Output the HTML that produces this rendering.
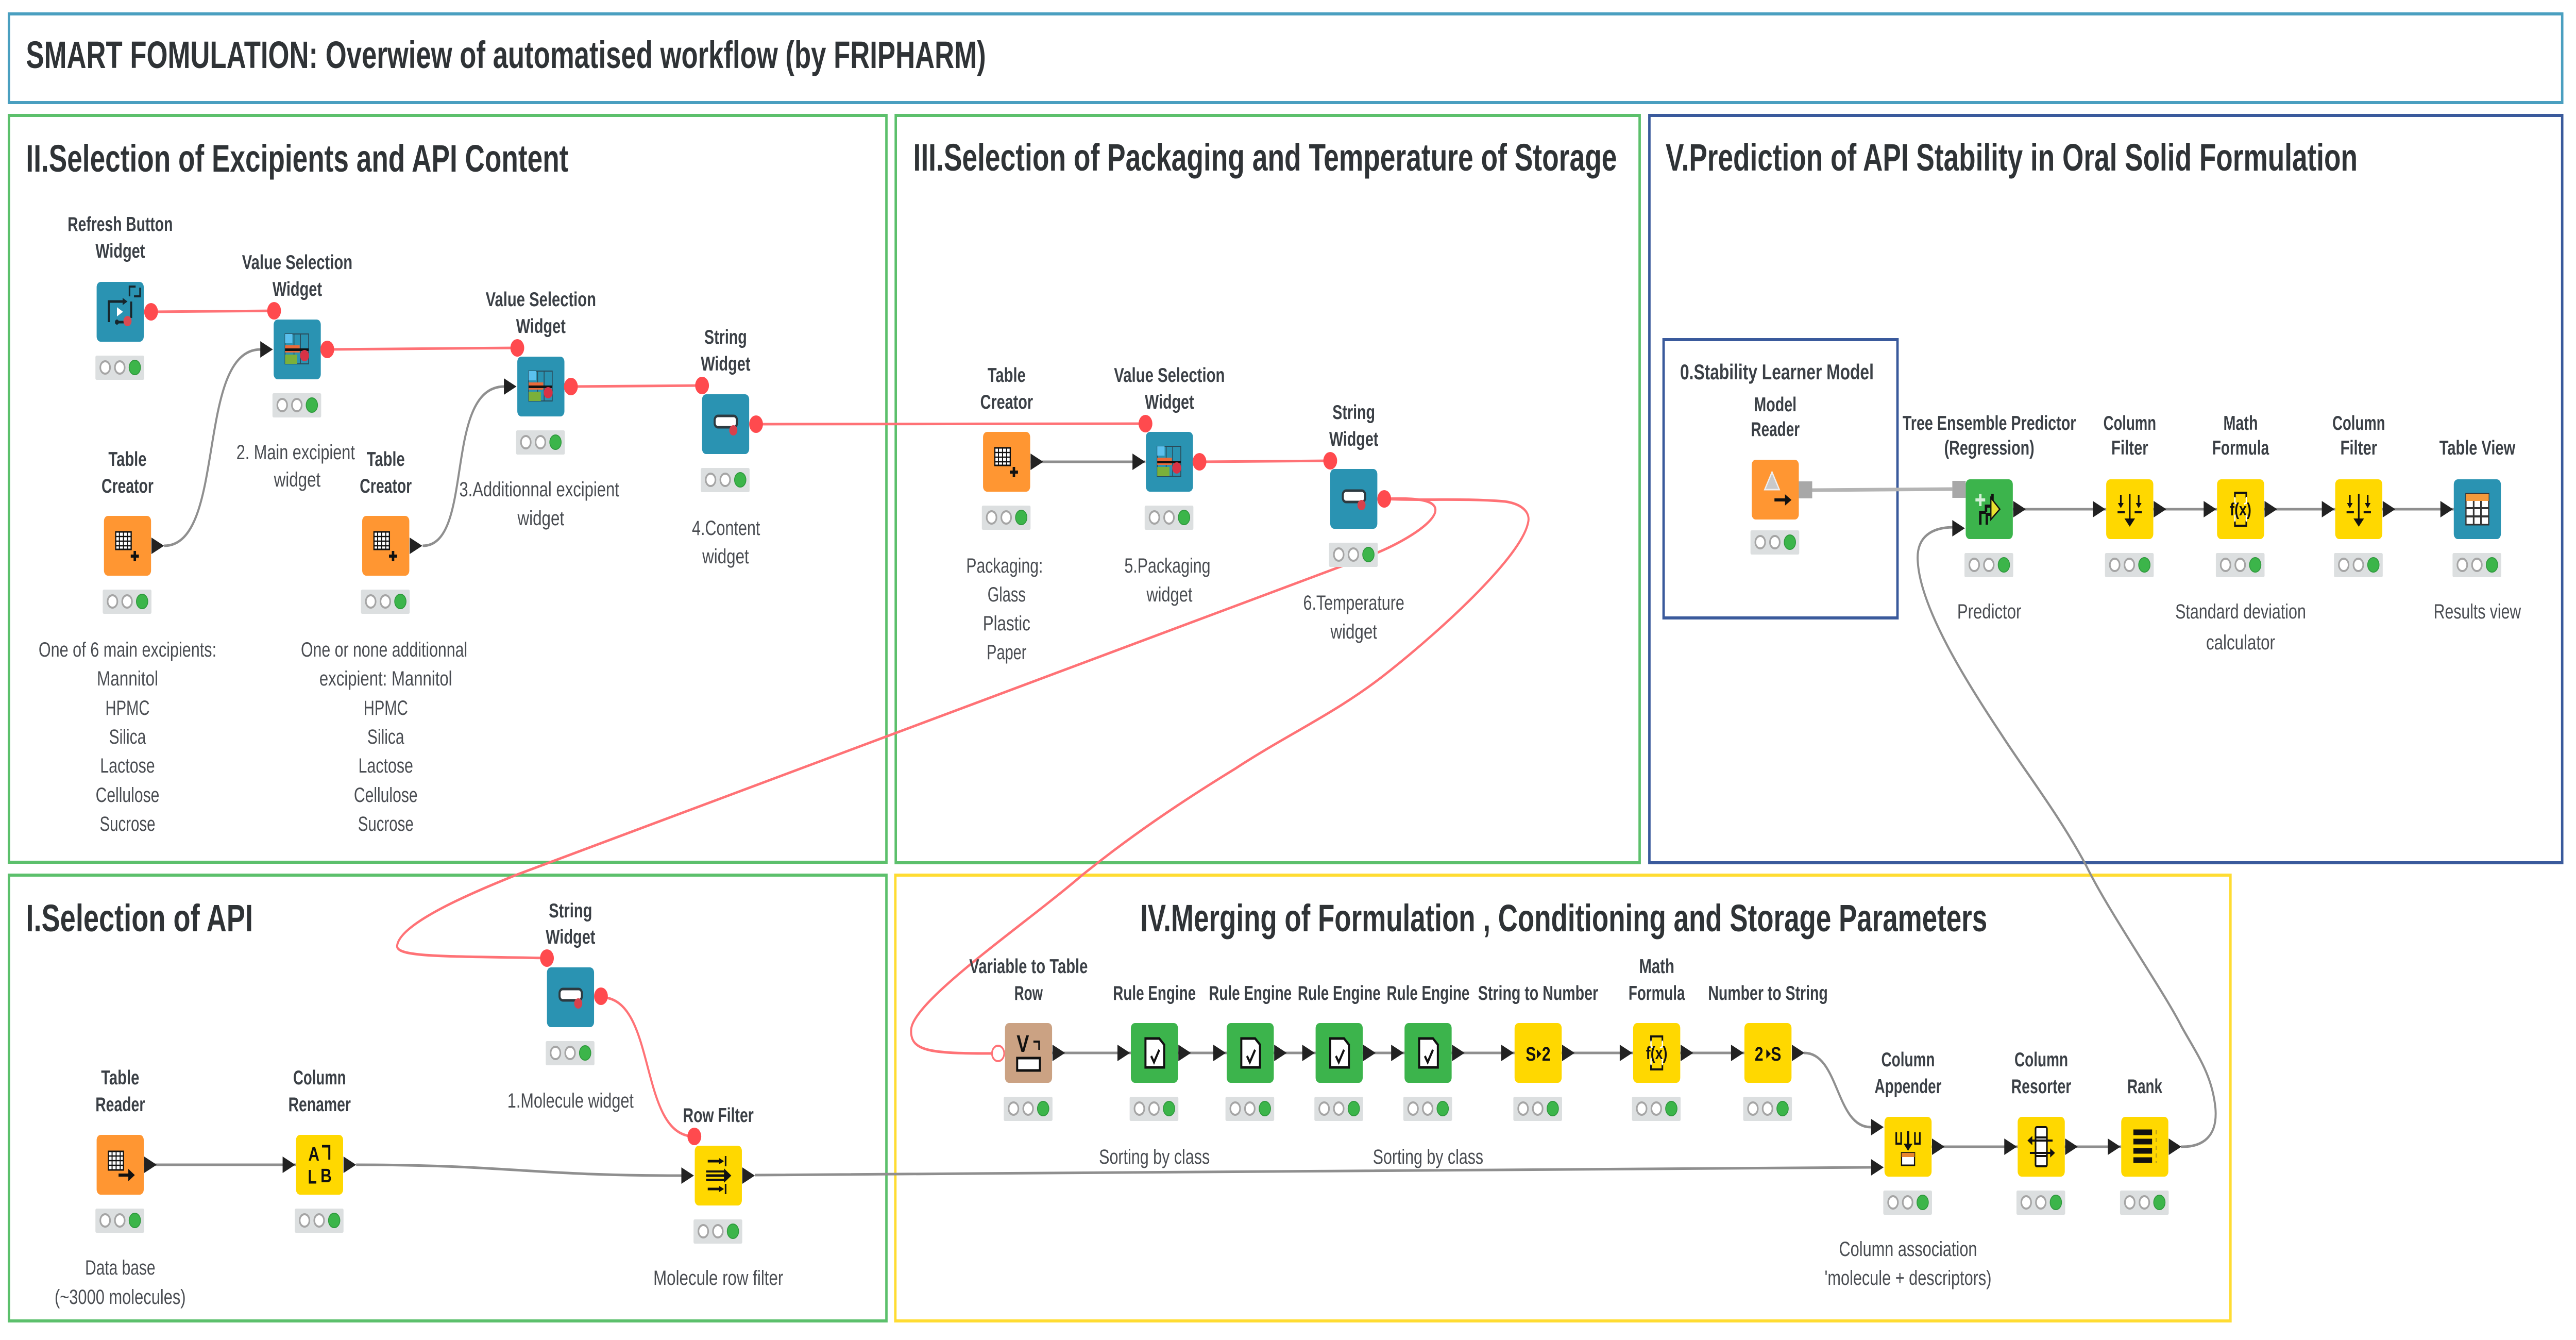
<!DOCTYPE html>
<html lang="en">
<head>
<meta charset="utf-8">
<title>SMART FOMULATION workflow</title>
<style>
html,body{margin:0;padding:0;background:#fff;width:100%;height:100%;overflow:hidden}
svg{display:block;width:100vw;height:100vh}
text{font-family:"Liberation Sans",sans-serif;text-anchor:middle}
.t{font-size:74px;font-weight:bold;fill:#2f3336;text-anchor:start}
.l{font-size:39px;font-weight:bold;fill:#3b4046}
.d{font-size:40px;fill:#4a4d52}
.fr{fill:none;stroke-width:6}
.r{fill:none;stroke:#ff7276;stroke-width:5}
.k{fill:none;stroke:#8f8f8f;stroke-width:5}
.p{fill:#ff4a4e}
.ic{font-weight:bold;fill:#111}
</style>
</head>
<body>
<svg viewBox="0 0 6344 2600" preserveAspectRatio="none" xmlns="http://www.w3.org/2000/svg">
<defs>
<rect id="nb" x="-58" y="-58" width="116" height="116" rx="10"/>
<g id="st">
<rect x="-61" y="85" width="120" height="47" rx="3" fill="#dcdfe0"/>
<circle cx="-37" cy="108" r="12" fill="#fff" stroke="#a5a5a5" stroke-width="4"/>
<circle cx="-1" cy="108" r="12" fill="#fff" stroke="#a5a5a5" stroke-width="4"/>
<circle cx="36" cy="108" r="14" fill="#3cb54a" stroke="#2f9a3d" stroke-width="2"/>
</g>
<polygon id="ti" points="-91,-16 -91,16 -60,0" fill="#222"/>
<polygon id="to" points="59,-16 59,16 90,0" fill="#222"/>
<g id="i-vs">
<rect x="-30" y="-30" width="58" height="58" fill="none" stroke="#2b4a58" stroke-width="2"/>
<path d="M-8,-30V28M8,-30V28" stroke="#2b4a58" stroke-width="2"/>
<rect x="-30" y="-30" width="18" height="18" fill="#5bc0ee"/>
<rect x="-30" y="-8" width="36" height="14" fill="#ea6b3a"/>
<rect x="-30" y="10" width="30" height="18" fill="#7bb03a"/>
<rect x="-30" y="-2" width="58" height="5" fill="#111"/>
<circle cx="18" cy="12" r="11" fill="#d83245"/>
</g>
<g id="i-str">
<rect x="-27" y="-16" width="55" height="22" rx="8" fill="#fff" stroke="#2d3a40" stroke-width="5"/>
<circle cx="19" cy="12" r="10" fill="#d8414c"/>
</g>
<g id="i-tc">
<rect x="-29" y="-27" width="38" height="34" fill="#fff" stroke="#111" stroke-width="3"/>
<path d="M-20,-27V7M-10,-27V7M0,-27V7M-29,-18H9M-29,-9H9M-29,0H9" stroke="#111" stroke-width="2.5"/>
<path d="M18,10V30M8,20H28" stroke="#111" stroke-width="6"/>
</g>
<g id="i-re">
<path d="M-22,-28H12L24,-16V28H-22Z" fill="#fff" stroke="#111" stroke-width="5"/>
<path d="M-8,6L-1,18L12,-6" fill="none" stroke="#111" stroke-width="5"/>
</g>
<g id="i-cf">
<path d="M0,-30V22" stroke="#111" stroke-width="4"/>
<polygon points="-13,18 13,18 0,34" fill="#111"/>
<path d="M-22,-28V-10M22,-28V-10" stroke="#111" stroke-width="4"/>
<polygon points="-29,-12 -15,-12 -22,-2" fill="#111"/>
<polygon points="15,-12 29,-12 22,-2" fill="#111"/>
<path d="M-30,6H-12M12,6H30" stroke="#111" stroke-width="4"/>
</g>
<g id="i-mf">
<path d="M-14,-22V-32H14V-22M-14,22V32H14V22" fill="none" stroke="#111" stroke-width="4"/>
<path d="M-14,-24V-12L-8,-10M14,-24V-12L8,-10M-14,24V12L-8,10M14,24V12L8,10" fill="none" stroke="#fff" stroke-width="3"/>
</g>
<g id="i-rf">
<path d="M-26,-28H10M-26,26H10M-30,0H20" stroke="#111" stroke-width="5" fill="none"/>
<path d="M-30,-8H16M-30,8H16" stroke="#111" stroke-width="4"/>
<polygon points="14,-14 32,0 14,14" fill="#111"/>
<path d="M18,-38V-18M18,16V36" stroke="#111" stroke-width="4"/>
<polygon points="2,-34 14,-28 2,-22" fill="#111"/>
<polygon points="2,20 14,26 2,32" fill="#111"/>
</g>
</defs>

<!-- frames -->
<rect class="fr" x="22" y="27" width="6288" height="172" stroke="#4a9fc0"/>
<rect class="fr" x="22" y="224" width="2161" height="1449" stroke="#5cc06c"/>
<rect class="fr" x="2206" y="224" width="1832" height="1450" stroke="#5cc06c"/>
<rect class="fr" x="4062" y="224" width="2248" height="1450" stroke="#3a5a9c"/>
<rect class="fr" x="4097" y="659" width="576" height="540" stroke="#3a5a9c"/>
<rect class="fr" x="22" y="1698" width="2161" height="865" stroke="#5cc06c"/>
<rect class="fr" x="2205" y="1698" width="3288" height="865" stroke="#ffdc32"/>

<!-- titles -->
<text class="t" x="64" y="132" textLength="2364" lengthAdjust="spacingAndGlyphs">SMART FOMULATION: Overwiew of automatised workflow (by FRIPHARM)</text>
<text class="t" x="64" y="333" textLength="1336" lengthAdjust="spacingAndGlyphs">II.Selection of Excipients and API Content</text>
<text class="t" x="2249" y="331" textLength="1733" lengthAdjust="spacingAndGlyphs">III.Selection of Packaging and Temperature of Storage</text>
<text class="t" x="4102" y="331" textLength="1704" lengthAdjust="spacingAndGlyphs">V.Prediction of API Stability in Oral Solid Formulation</text>
<text class="t" x="64" y="1807" textLength="559" lengthAdjust="spacingAndGlyphs">I.Selection of API</text>
<text class="t" x="2808" y="1807" textLength="2086" lengthAdjust="spacingAndGlyphs">IV.Merging of Formulation , Conditioning and Storage Parameters</text>

<!-- wires: red -->
<path class="r" d="M372,605L675,603"/>
<path class="r" d="M806,678L1274,675"/>
<path class="r" d="M1406,750L1729,748"/>
<path class="r" d="M1862,823L2821,822"/>
<path class="r" d="M2954,896L3276,894"/>
<path class="r" d="M3409,968C3470,966 3545,966 3534,995C3522,1022 3440,1058 3374,1078L1270,1698C1170,1730 985,1790 978,1835C975,1858 1100,1855 1347,1859"/>
<path class="r" d="M3409,968C3500,972 3600,966 3706,973C3750,978 3770,995 3763,1015C3745,1080 3560,1215 3425,1300C3300,1380 3170,1425 3043,1491C2900,1560 2780,1625 2665,1698C2530,1790 2250,1940 2244,1997C2240,2040 2290,2044 2441,2044"/>
<path class="r" d="M1480,1935C1620,1935 1570,2205 1710,2205"/>

<!-- wires: black -->
<path class="k" d="M404,1059C560,1059 480,678 642,678"/>
<path class="k" d="M1041,1059C1170,1059 1090,750 1242,750"/>
<path class="k" d="M2538,896H2821"/>
<path class="k" d="M354,2260H730"/>
<path class="k" d="M877,2260C1250,2260 1300,2281 1680,2281"/>
<path class="k" d="M1859,2280C3000,2280 3500,2265 4607,2265"/>
<path class="k" d="M2591,2043H4296"/>
<path class="k" d="M4443,2043C4530,2043 4520,2187 4607,2187"/>
<path class="k" d="M4757,2225H5224"/>
<path class="k" d="M4957,988H6043"/>
<path d="M4463,951L4808,949" fill="none" stroke="#b4b4b4" stroke-width="7"/>
<path class="k" stroke-width="4" d="M5371,2225C5425,2226 5462,2205 5456,2150C5448,2085 5410,2045 5372,1991C5330,1925 5190,1765 5138,1680C5070,1580 4990,1500 4928,1424C4840,1320 4730,1180 4723,1090C4718,1040 4760,1023 4811,1023"/>

<!-- II nodes -->
<g transform="translate(296,605)"><use href="#nb" fill="#2a93b2"/><use href="#st"/>
<path d="M-28,20V-20H8M27,-20V12M-8,20H14" fill="none" stroke="#17262c" stroke-width="5"/>
<polygon points="6,-27 18,-20 6,-13" fill="#17262c"/><circle cx="-8" cy="20" r="5" fill="#17262c"/>
<polygon points="-8,-9 7,0 -8,9" fill="#fff"/><circle cx="18" cy="18" r="10" fill="#d84a52"/>
<path d="M23,-30V-49H38M49,-47V-30H34" fill="none" stroke="#17262c" stroke-width="4"/>
</g>
<g transform="translate(732,678)"><use href="#nb" fill="#2a93b2"/><use href="#st"/><use href="#i-vs"/><use href="#ti"/></g>
<g transform="translate(1332,750)"><use href="#nb" fill="#2a93b2"/><use href="#st"/><use href="#i-vs"/><use href="#ti"/></g>
<g transform="translate(1787,823)"><use href="#nb" fill="#2a93b2"/><use href="#st"/><use href="#i-str"/></g>
<g transform="translate(314,1059)"><use href="#nb" fill="#ff9632"/><use href="#st"/><use href="#i-tc"/><use href="#to"/></g>
<g transform="translate(950,1059)"><use href="#nb" fill="#ff9632"/><use href="#st"/><use href="#i-tc"/><use href="#to"/></g>

<!-- III nodes -->
<g transform="translate(2479,896)"><use href="#nb" fill="#ff9632"/><use href="#st"/><use href="#i-tc"/><use href="#to"/></g>
<g transform="translate(2880,896)"><use href="#nb" fill="#2a93b2"/><use href="#st"/><use href="#i-vs"/><use href="#ti"/></g>
<g transform="translate(3334,968)"><use href="#nb" fill="#2a93b2"/><use href="#st"/><use href="#i-str"/></g>

<!-- V nodes -->
<g transform="translate(4372,950)"><use href="#nb" fill="#ff9632"/><use href="#st" transform="translate(0,-6)"/>
<polygon points="-8,-34 10,0 -26,0" fill="#c9c9c9" stroke="#eee" stroke-width="3"/>
<path d="M-2,20H28" stroke="#111" stroke-width="6"/><polygon points="24,9 40,20 24,31" fill="#111"/>
<rect x="58" y="-16" width="33" height="33" fill="#a8a8a8"/>
</g>
<g transform="translate(4899,988)"><use href="#nb" fill="#3cb44c"/><use href="#st"/>
<path d="M-22,-30V-6M-34,-18H-10" stroke="#d5f0d8" stroke-width="6"/>
<path d="M-22,30V6H-8M8,-30V-8M-8,6V-6H8M-6,30V10H10" fill="none" stroke="#111" stroke-width="6"/>
<polygon points="4,-22 26,0 4,20" fill="#e8e030" stroke="#111" stroke-width="3"/>
<rect x="-91" y="-55" width="33" height="33" fill="#a8a8a8"/>
<polygon points="-91,21 -91,53 -60,37" fill="#222"/>
<use href="#to"/></g>
<g transform="translate(5245,988)"><use href="#nb" fill="#ffd800"/><use href="#st"/><use href="#i-cf"/><use href="#ti"/><use href="#to"/></g>
<g transform="translate(5518,988)"><use href="#nb" fill="#ffd800"/><use href="#st"/><use href="#i-mf"/><text class="ic" x="0" y="12" font-size="34">f(x)</text><use href="#ti"/><use href="#to"/></g>
<g transform="translate(5809,988)"><use href="#nb" fill="#ffd800"/><use href="#st"/><use href="#i-cf"/><use href="#ti"/><use href="#to"/></g>
<g transform="translate(6101,988)"><use href="#nb" fill="#2a93b2"/><use href="#st"/>
<rect x="-28" y="-30" width="56" height="60" fill="#fff" stroke="#333" stroke-width="3"/>
<rect x="-28" y="-30" width="56" height="14" fill="#f39a3c"/>
<path d="M-28,-2H28M-28,14H28M-9,-16V30M9,-16V30" stroke="#333" stroke-width="4"/>
<use href="#ti"/></g>

<!-- I nodes -->
<g transform="translate(296,2260)"><use href="#nb" fill="#ff9632"/><use href="#st"/>
<rect x="-29" y="-26" width="37" height="36" fill="#fff" stroke="#111" stroke-width="3"/>
<path d="M-20,-26V10M-10,-26V10M0,-26V10M-29,-17H8M-29,-8H8M-29,1H8" stroke="#111" stroke-width="2.5"/>
<path d="M-4,20H24" stroke="#111" stroke-width="6"/><polygon points="20,8 36,20 20,32" fill="#111"/>
<use href="#to"/></g>
<g transform="translate(787,2260)"><use href="#nb" fill="#ffd800"/><use href="#st"/>
<text class="ic" x="-14" y="-8" font-size="38">A</text><text class="ic" x="16" y="34" font-size="38">B</text>
<path d="M6,-36H24V-10M-24,10V34H-8" fill="none" stroke="#111" stroke-width="5"/>
<use href="#ti"/><use href="#to"/></g>
<g transform="translate(1405,1935)"><use href="#nb" fill="#2a93b2"/><use href="#st"/><use href="#i-str"/></g>
<g transform="translate(1769,2281)"><use href="#nb" fill="#ffd800"/><use href="#st"/><use href="#i-rf"/><use href="#ti"/><use href="#to"/></g>

<!-- IV nodes -->
<g transform="translate(2533,2043)"><use href="#nb" fill="#cba283"/><use href="#st"/>
<text class="ic" x="-14" y="-2" font-size="46">V</text>
<path d="M12,-22H26V-6" fill="none" stroke="#111" stroke-width="4"/>
<rect x="-28" y="10" width="56" height="24" fill="#fff" stroke="#111" stroke-width="5"/>
<use href="#to"/></g>
<g transform="translate(2843,2043)"><use href="#nb" fill="#3cb44c"/><use href="#st"/><use href="#i-re"/><use href="#ti"/><use href="#to"/></g>
<g transform="translate(3079,2043)"><use href="#nb" fill="#3cb44c"/><use href="#st"/><use href="#i-re"/><use href="#ti"/><use href="#to"/></g>
<g transform="translate(3298,2043)"><use href="#nb" fill="#3cb44c"/><use href="#st"/><use href="#i-re"/><use href="#ti"/><use href="#to"/></g>
<g transform="translate(3517,2043)"><use href="#nb" fill="#3cb44c"/><use href="#st"/><use href="#i-re"/><use href="#ti"/><use href="#to"/></g>
<g transform="translate(3788,2043)"><use href="#nb" fill="#ffd800"/><use href="#st"/>
<text class="ic" x="-18" y="15" font-size="38">S</text><polygon points="-3,-7 8,2 -3,11" fill="#111"/><text class="ic" x="20" y="15" font-size="38">2</text>
<use href="#ti"/><use href="#to"/></g>
<g transform="translate(4080,2043)"><use href="#nb" fill="#ffd800"/><use href="#st"/><use href="#i-mf"/><text class="ic" x="0" y="12" font-size="34">f(x)</text><use href="#ti"/><use href="#to"/></g>
<g transform="translate(4354,2043)"><use href="#nb" fill="#ffd800"/><use href="#st"/>
<text class="ic" x="-22" y="15" font-size="38">2</text><polygon points="-4,-7 7,2 -4,11" fill="#111"/><text class="ic" x="20" y="15" font-size="38">S</text>
<use href="#ti"/><use href="#to"/></g>
<g transform="translate(4699,2225)"><use href="#nb" fill="#ffd800"/><use href="#st"/>
<path d="M-29,-28V-6H-17V-28M17,-28V-6H29V-28" fill="none" stroke="#111" stroke-width="4"/>
<path d="M0,-30V-2" stroke="#111" stroke-width="6"/><polygon points="-11,-6 11,-6 0,8" fill="#111"/>
<rect x="-16" y="12" width="32" height="24" fill="#fff" stroke="#111" stroke-width="3"/><rect x="-16" y="12" width="32" height="8" fill="#e8852f"/>
<polygon points="-91,-54 -91,-22 -60,-38" fill="#222"/><polygon points="-91,24 -91,56 -60,40" fill="#222"/>
<use href="#to"/></g>
<g transform="translate(5027,2225)"><use href="#nb" fill="#ffd800"/><use href="#st"/>
<rect x="-14" y="-38" width="28" height="76" rx="3" fill="#fff" stroke="#111" stroke-width="4"/>
<path d="M-14,-18H14M-14,18H14M-28,-12H28M-28,12H28" stroke="#111" stroke-width="4"/>
<polygon points="-22,-21 -34,-12 -22,-3" fill="#111"/><polygon points="22,3 34,12 22,21" fill="#111"/>
<use href="#ti"/><use href="#to"/></g>
<g transform="translate(5282,2225)"><use href="#nb" fill="#ffd800"/><use href="#st"/>
<path d="M-28,-28H18M-28,-10H18M-28,8H18M-28,26H18" stroke="#111" stroke-width="11"/>
<path d="M28,-32V32" stroke="#a08a20" stroke-width="2" stroke-dasharray="8 7"/>
<use href="#ti"/><use href="#to"/></g>

<!-- flow ports -->
<circle class="p" cx="372" cy="605" r="17"/><circle class="p" cx="675" cy="603" r="17"/>
<circle class="p" cx="806" cy="678" r="17"/><circle class="p" cx="1274" cy="675" r="17"/>
<circle class="p" cx="1406" cy="750" r="17"/><circle class="p" cx="1729" cy="748" r="17"/>
<circle class="p" cx="1862" cy="823" r="17"/><circle class="p" cx="2821" cy="822" r="17"/>
<circle class="p" cx="2954" cy="896" r="17"/><circle class="p" cx="3276" cy="894" r="17"/>
<circle class="p" cx="3409" cy="968" r="17"/>
<circle class="p" cx="1347" cy="1859" r="17"/><circle class="p" cx="1480" cy="1933" r="17"/>
<circle class="p" cx="1710" cy="2205" r="17"/>
<circle cx="2458" cy="2044" r="15" fill="#fff" stroke="#ff7276" stroke-width="4"/>

<!-- II labels -->
<text class="l" x="296" y="448" textLength="259" lengthAdjust="spacingAndGlyphs">Refresh Button</text>
<text class="l" x="296" y="500" textLength="122" lengthAdjust="spacingAndGlyphs">Widget</text>
<text class="l" x="732" y="522" textLength="272" lengthAdjust="spacingAndGlyphs">Value Selection</text>
<text class="l" x="732" y="574" textLength="122" lengthAdjust="spacingAndGlyphs">Widget</text>
<text class="l" x="1332" y="594" textLength="272" lengthAdjust="spacingAndGlyphs">Value Selection</text>
<text class="l" x="1332" y="646" textLength="122" lengthAdjust="spacingAndGlyphs">Widget</text>
<text class="l" x="1787" y="667" textLength="105" lengthAdjust="spacingAndGlyphs">String</text>
<text class="l" x="1787" y="719" textLength="122" lengthAdjust="spacingAndGlyphs">Widget</text>
<text class="l" x="314" y="904" textLength="94" lengthAdjust="spacingAndGlyphs">Table</text>
<text class="l" x="314" y="956" textLength="128" lengthAdjust="spacingAndGlyphs">Creator</text>
<text class="l" x="950" y="904" textLength="94" lengthAdjust="spacingAndGlyphs">Table</text>
<text class="l" x="950" y="956" textLength="128" lengthAdjust="spacingAndGlyphs">Creator</text>
<text class="d" x="728" y="891" textLength="292" lengthAdjust="spacingAndGlyphs">2. Main excipient</text>
<text class="d" x="732" y="944" textLength="115" lengthAdjust="spacingAndGlyphs">widget</text>
<text class="d" x="1328" y="963" textLength="394" lengthAdjust="spacingAndGlyphs">3.Additionnal excipient</text>
<text class="d" x="1332" y="1019" textLength="115" lengthAdjust="spacingAndGlyphs">widget</text>
<text class="d" x="1788" y="1038" textLength="168" lengthAdjust="spacingAndGlyphs">4.Content</text>
<text class="d" x="1787" y="1093" textLength="115" lengthAdjust="spacingAndGlyphs">widget</text>
<text class="d" x="314" y="1274" textLength="438" lengthAdjust="spacingAndGlyphs">One of 6 main excipients:</text>
<text class="d" x="314" y="1330" textLength="151" lengthAdjust="spacingAndGlyphs">Mannitol</text>
<text class="d" x="314" y="1387" textLength="109" lengthAdjust="spacingAndGlyphs">HPMC</text>
<text class="d" x="314" y="1443" textLength="91" lengthAdjust="spacingAndGlyphs">Silica</text>
<text class="d" x="314" y="1499" textLength="135" lengthAdjust="spacingAndGlyphs">Lactose</text>
<text class="d" x="314" y="1556" textLength="157" lengthAdjust="spacingAndGlyphs">Cellulose</text>
<text class="d" x="314" y="1612" textLength="137" lengthAdjust="spacingAndGlyphs">Sucrose</text>
<text class="d" x="946" y="1274" textLength="410" lengthAdjust="spacingAndGlyphs">One or none additionnal</text>
<text class="d" x="950" y="1330" textLength="327" lengthAdjust="spacingAndGlyphs">excipient: Mannitol</text>
<text class="d" x="950" y="1387" textLength="109" lengthAdjust="spacingAndGlyphs">HPMC</text>
<text class="d" x="950" y="1443" textLength="91" lengthAdjust="spacingAndGlyphs">Silica</text>
<text class="d" x="950" y="1499" textLength="135" lengthAdjust="spacingAndGlyphs">Lactose</text>
<text class="d" x="950" y="1556" textLength="157" lengthAdjust="spacingAndGlyphs">Cellulose</text>
<text class="d" x="950" y="1612" textLength="137" lengthAdjust="spacingAndGlyphs">Sucrose</text>

<!-- III labels -->
<text class="l" x="2479" y="741" textLength="94" lengthAdjust="spacingAndGlyphs">Table</text>
<text class="l" x="2479" y="793" textLength="130" lengthAdjust="spacingAndGlyphs">Creator</text>
<text class="l" x="2880" y="741" textLength="273" lengthAdjust="spacingAndGlyphs">Value Selection</text>
<text class="l" x="2880" y="793" textLength="121" lengthAdjust="spacingAndGlyphs">Widget</text>
<text class="l" x="3334" y="813" textLength="105" lengthAdjust="spacingAndGlyphs">String</text>
<text class="l" x="3334" y="865" textLength="121" lengthAdjust="spacingAndGlyphs">Widget</text>
<text class="d" x="2474" y="1111" textLength="189" lengthAdjust="spacingAndGlyphs">Packaging:</text>
<text class="d" x="2479" y="1167" textLength="94" lengthAdjust="spacingAndGlyphs">Glass</text>
<text class="d" x="2479" y="1223" textLength="117" lengthAdjust="spacingAndGlyphs">Plastic</text>
<text class="d" x="2479" y="1279" textLength="98" lengthAdjust="spacingAndGlyphs">Paper</text>
<text class="d" x="2875" y="1111" textLength="212" lengthAdjust="spacingAndGlyphs">5.Packaging</text>
<text class="d" x="2880" y="1167" textLength="113" lengthAdjust="spacingAndGlyphs">widget</text>
<text class="d" x="3334" y="1183" textLength="249" lengthAdjust="spacingAndGlyphs">6.Temperature</text>
<text class="d" x="3334" y="1239" textLength="115" lengthAdjust="spacingAndGlyphs">widget</text>

<!-- V labels -->
<text class="l" x="4376" y="736" textLength="477" lengthAdjust="spacingAndGlyphs" style="font-size:42px">0.Stability Learner Model</text>
<text class="l" x="4372" y="798" textLength="105" lengthAdjust="spacingAndGlyphs">Model</text>
<text class="l" x="4372" y="846" textLength="120" lengthAdjust="spacingAndGlyphs">Reader</text>
<text class="l" x="4899" y="834" textLength="427" lengthAdjust="spacingAndGlyphs">Tree Ensemble Predictor</text>
<text class="l" x="4899" y="882" textLength="222" lengthAdjust="spacingAndGlyphs">(Regression)</text>
<text class="l" x="5245" y="834" textLength="130" lengthAdjust="spacingAndGlyphs">Column</text>
<text class="l" x="5245" y="882" textLength="91" lengthAdjust="spacingAndGlyphs">Filter</text>
<text class="l" x="5518" y="834" textLength="85" lengthAdjust="spacingAndGlyphs">Math</text>
<text class="l" x="5518" y="882" textLength="140" lengthAdjust="spacingAndGlyphs">Formula</text>
<text class="l" x="5809" y="834" textLength="130" lengthAdjust="spacingAndGlyphs">Column</text>
<text class="l" x="5809" y="882" textLength="91" lengthAdjust="spacingAndGlyphs">Filter</text>
<text class="l" x="6101" y="882" textLength="187" lengthAdjust="spacingAndGlyphs">Table View</text>
<text class="d" x="4899" y="1200" textLength="158" lengthAdjust="spacingAndGlyphs">Predictor</text>
<text class="d" x="5518" y="1200" textLength="322" lengthAdjust="spacingAndGlyphs">Standard deviation</text>
<text class="d" x="5518" y="1260" textLength="170" lengthAdjust="spacingAndGlyphs">calculator</text>
<text class="d" x="6101" y="1200" textLength="215" lengthAdjust="spacingAndGlyphs">Results view</text>

<!-- I labels -->
<text class="l" x="296" y="2104" textLength="94" lengthAdjust="spacingAndGlyphs">Table</text>
<text class="l" x="296" y="2156" textLength="122" lengthAdjust="spacingAndGlyphs">Reader</text>
<text class="l" x="787" y="2104" textLength="130" lengthAdjust="spacingAndGlyphs">Column</text>
<text class="l" x="787" y="2156" textLength="154" lengthAdjust="spacingAndGlyphs">Renamer</text>
<text class="l" x="1405" y="1780" textLength="107" lengthAdjust="spacingAndGlyphs">String</text>
<text class="l" x="1405" y="1831" textLength="122" lengthAdjust="spacingAndGlyphs">Widget</text>
<text class="l" x="1769" y="2177" textLength="174" lengthAdjust="spacingAndGlyphs">Row Filter</text>
<text class="d" x="296" y="2473" textLength="173" lengthAdjust="spacingAndGlyphs">Data base</text>
<text class="d" x="296" y="2530" textLength="323" lengthAdjust="spacingAndGlyphs">(~3000 molecules)</text>
<text class="d" x="1405" y="2149" textLength="311" lengthAdjust="spacingAndGlyphs">1.Molecule widget</text>
<text class="d" x="1769" y="2493" textLength="320" lengthAdjust="spacingAndGlyphs">Molecule row filter</text>

<!-- IV labels -->
<text class="l" x="2533" y="1888" textLength="292" lengthAdjust="spacingAndGlyphs">Variable to Table</text>
<text class="l" x="2533" y="1940" textLength="70" lengthAdjust="spacingAndGlyphs">Row</text>
<text class="l" x="2843" y="1940" textLength="204" lengthAdjust="spacingAndGlyphs">Rule Engine</text>
<text class="l" x="3079" y="1940" textLength="204" lengthAdjust="spacingAndGlyphs">Rule Engine</text>
<text class="l" x="3298" y="1940" textLength="204" lengthAdjust="spacingAndGlyphs">Rule Engine</text>
<text class="l" x="3517" y="1940" textLength="204" lengthAdjust="spacingAndGlyphs">Rule Engine</text>
<text class="l" x="3788" y="1940" textLength="296" lengthAdjust="spacingAndGlyphs">String to Number</text>
<text class="l" x="4080" y="1888" textLength="87" lengthAdjust="spacingAndGlyphs">Math</text>
<text class="l" x="4080" y="1940" textLength="139" lengthAdjust="spacingAndGlyphs">Formula</text>
<text class="l" x="4354" y="1940" textLength="295" lengthAdjust="spacingAndGlyphs">Number to String</text>
<text class="l" x="4699" y="2069" textLength="132" lengthAdjust="spacingAndGlyphs">Column</text>
<text class="l" x="4699" y="2121" textLength="165" lengthAdjust="spacingAndGlyphs">Appender</text>
<text class="l" x="5027" y="2069" textLength="132" lengthAdjust="spacingAndGlyphs">Column</text>
<text class="l" x="5027" y="2121" textLength="148" lengthAdjust="spacingAndGlyphs">Resorter</text>
<text class="l" x="5282" y="2121" textLength="86" lengthAdjust="spacingAndGlyphs">Rank</text>
<text class="d" x="2843" y="2258" textLength="273" lengthAdjust="spacingAndGlyphs">Sorting by class</text>
<text class="d" x="3517" y="2258" textLength="272" lengthAdjust="spacingAndGlyphs">Sorting by class</text>
<text class="d" x="4699" y="2437" textLength="340" lengthAdjust="spacingAndGlyphs">Column association</text>
<text class="d" x="4699" y="2493" textLength="411" lengthAdjust="spacingAndGlyphs">'molecule + descriptors)</text>
</svg>
</body>
</html>
